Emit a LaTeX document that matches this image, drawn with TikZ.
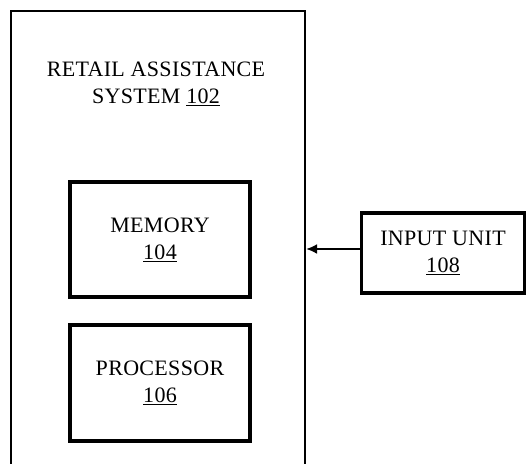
\documentclass[tikz,border=0pt]{standalone}
\usepackage{fontspec}
\setmainfont{Liberation Serif}[LetterSpace=1.5]
\usetikzlibrary{arrows.meta}
\begin{document}
\begin{tikzpicture}[x=1pt,y=-1pt,
  lbl/.style={font=\fontsize{22}{27}\selectfont, align=center, inner sep=0pt},
  blk/.style={draw, line width=3.2pt, inner sep=0pt},
  outer/.style={draw, line width=2.2pt, inner sep=0pt}]
\path[use as bounding box, clip] (0,0) rectangle (527,463);
\fill[white] (0,0) rectangle (527,463);
\node[outer, minimum width=294pt, minimum height=470pt] (sys) at (158,246) {};
\node[lbl] (title) at (156,84) {RETAIL ASSISTANCE\\SYSTEM \underline{102}};
\node[blk, minimum width=180pt, minimum height=115pt] (mem) at (160,239.5) {};
\node[lbl] (memt) at (mem.center) {MEMORY\\\underline{104}};
\node[blk, minimum width=180pt, minimum height=116pt] (proc) at (160,383) {};
\node[lbl] (proct) at (proc.center) {PROCESSOR\\\underline{106}};
\node[blk, minimum width=163pt, minimum height=80pt] (inp) at (443,253) {};
\node[lbl] (inpt) at (inp.center) {INPUT UNIT\\\underline{108}};
\draw[line width=2pt, -{Latex[length=11pt,width=10pt]}] (inp.west |- 0,249) -- (sys.east |- 0,249);
\end{tikzpicture}
\end{document}
